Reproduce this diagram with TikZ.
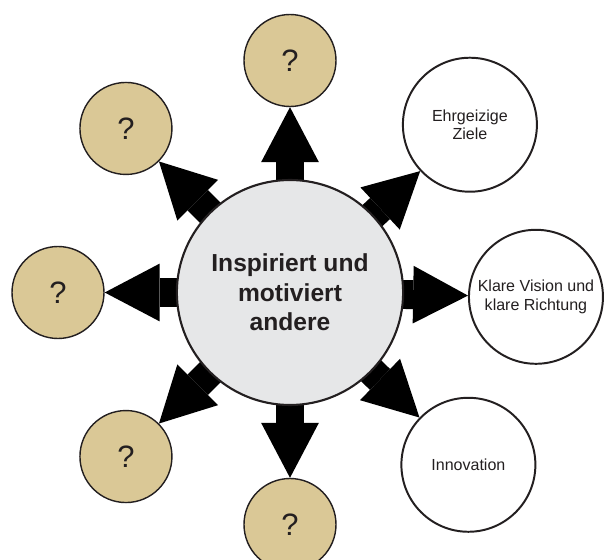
\documentclass[tikz,border=0pt]{standalone}
\usepackage{fontspec}
\setmainfont{Liberation Sans}
\usetikzlibrary{calc}
\usetikzlibrary{arrows.meta}
\usetikzlibrary{shapes.geometric}
\usetikzlibrary{backgrounds}

\definecolor{sand}{RGB}{218,200,150}
\definecolor{hubgray}{RGB}{230,231,232}
\definecolor{ink}{RGB}{35,31,32}

\begin{document}
\begin{tikzpicture}[
        every node/.style={draw=ink,circle,align=center,text=ink,inner sep=1pt},
        quest/.style={fill=sand,line width=1pt,minimum size=2.3cm,font=\fontsize{22}{26}\selectfont},
        goal/.style={fill=white,line width=1.4pt,minimum size=3.35cm,font=\fontsize{11.4}{13}\selectfont},
        push/.style={black,line width=20.6pt,-{Triangle[width=41pt,length=39pt,line width=0pt]}},
        >=Latex
    ]
        \useasboundingbox (-7.25,-6.6875) rectangle (7.875,7.3125);
        \node[ellipse,fill=hubgray,line width=1.5pt,minimum width=5.4cm,minimum height=5.625cm,font=\bfseries\fontsize{17.5}{21}\selectfont] (hub) at (0,0) {Inspiriert und\\motiviert\\andere};
        % open questions on the left
        \node[quest] (qn) at ($(hub) + (90:5.8)$) {?};
        \node[quest] (qnw) at ($(hub) + (135:5.8)$) {?};
        \node[quest] (qw) at ($(hub) + (180:5.8)$) {?};
        \node[quest] (qsw) at ($(hub) + (225:5.8)$) {?};
        \node[quest] (qs) at ($(hub) + (270:5.8)$) {?};
        % named goals on the right
        \node[goal] (gne) at ($(hub) + (43:6.15)$) {Ehrgeizige\\Ziele};
        \node[goal] (ge) at ($(hub) + (-1:6.15)$) {Klare Vision und\\klare Richtung};
        \node[goal] (gse) at ($(hub) + (-44:6.2)$) {Innovation};
        \begin{scope}[on background layer]
            \draw[push] (hub.center) -- (qn);
            \draw[push] (hub.center) -- (qnw);
            \draw[push] (hub.center) -- (qw);
            \draw[push] (hub.center) -- (qsw);
            \draw[push] (hub.center) -- (qs);
            \draw[push] (hub.center) -- (gne);
            \draw[push] (hub.center) -- (ge);
            \draw[push] (hub.center) -- (gse);
        \end{scope}
    \end{tikzpicture}
\end{document}
